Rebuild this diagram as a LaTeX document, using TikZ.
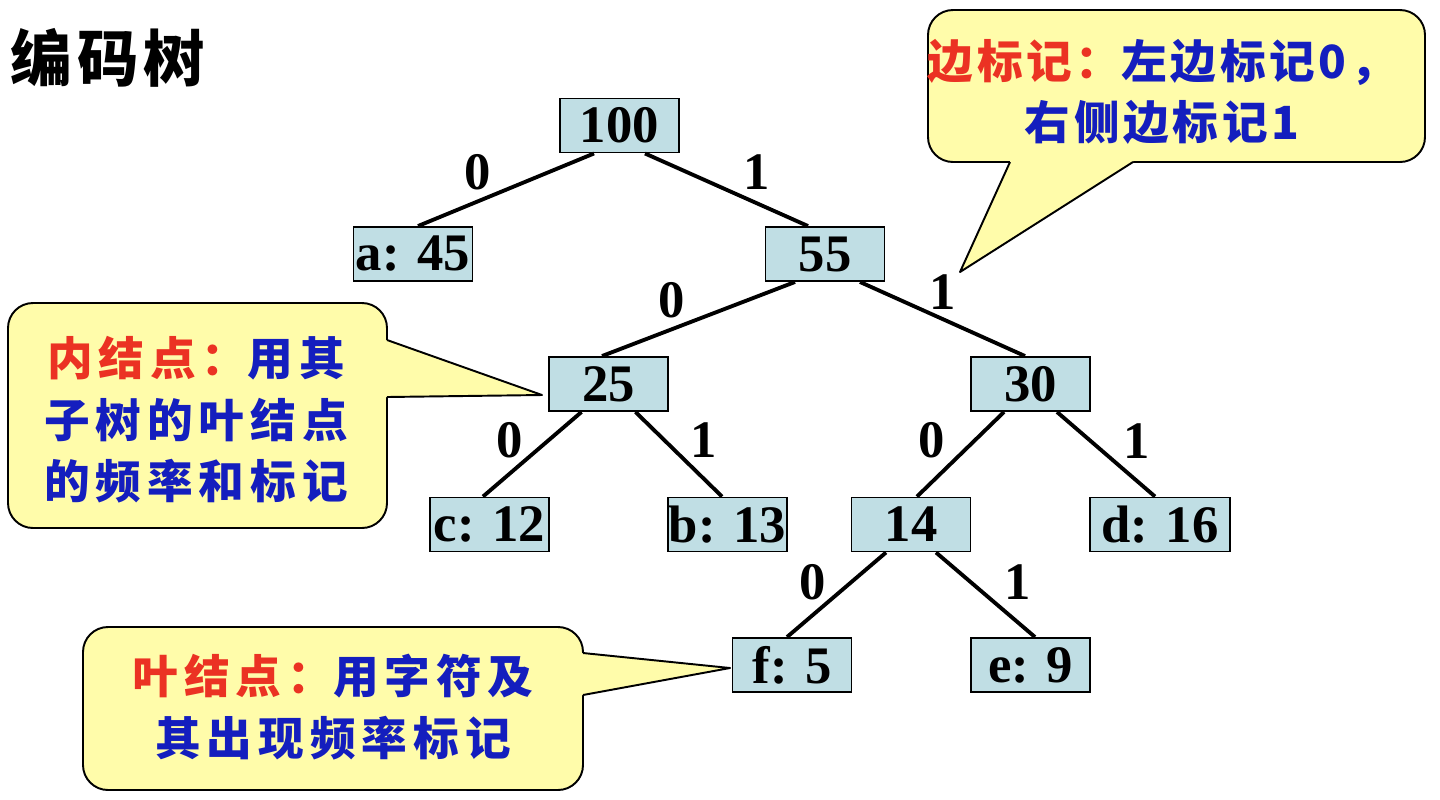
\documentclass[tikz,border=0pt]{standalone}
\usepackage{fontspec}
\setmainfont{Liberation Serif}
\newfontfamily\cjk[LetterSpace=13]{Noto Sans CJK SC}
\newfontfamily\cjknarrow[LetterSpace=8]{Noto Sans CJK SC}
\newfontfamily\titlecjk[LetterSpace=8]{Noto Sans CJK SC}
\usetikzlibrary{positioning}
\definecolor{boxfill}{RGB}{192,222,228}
\definecolor{notefill}{RGB}{255,252,170}
\definecolor{keyred}{RGB}{235,50,35}
\definecolor{textblue}{RGB}{20,30,190}

\begin{document}
\begin{tikzpicture}[x=0.02cm, y=-0.02cm,
  treenode/.style={draw=black, line width=1.1pt, fill=boxfill, minimum width=2.38cm,
    minimum height=1.08cm, inner sep=0pt, font=\fontsize{30}{30}\selectfont\bfseries},
  edgelabel/.style={inner sep=0pt, font=\fontsize{30}{30}\selectfont\bfseries},
  treeedge/.style={line width=2.2pt},
  note/.style={draw=black, line width=1.1pt, fill=notefill, rounded corners=0.5cm},
  pointer/.style={draw=black, line width=1.1pt, line join=round},
  notetext/.style={align=center, inner sep=0pt, text=textblue,
    font=\cjk\bfseries\fontsize{26}{35}\selectfont}]
  \useasboundingbox (0,0) rectangle (1440,799);

  % title
  \node[font=\titlecjk\bfseries\fontsize{35}{35}\selectfont, inner sep=0pt] (title) at (108,58) {编码树};

  % tree nodes
  \node[treenode] (n100) at (619.5,125.5) {100};
  \node[treenode] (a45) at (413,254) {a: 45};
  \node[treenode] (n55) at (825,254) {55};
  \node[treenode] (n25) at (608.5,384) {25};
  \node[treenode] (n30) at (1030.5,384) {30};
  \node[treenode] (c12) at (489.5,524.5) {c: 12};
  \node[treenode] (b13) at (727.5,524.5) {b: 13};
  \node[treenode] (n14) at (911,524.5) {14};
  \node[treenode, minimum width=2.8cm] (d16) at (1160,524.5) {d: 16};
  \node[treenode] (f5) at (792,665) {f: 5};
  \node[treenode] (e9) at (1030.5,665) {e: 9};

  % edges
  \draw[treeedge] ([xshift=-0.51cm]n100.south) -- ([xshift=0.1cm]a45.north);
  \draw[treeedge] ([xshift=0.51cm]n100.south) -- ([xshift=-0.34cm]n55.north);
  \draw[treeedge] ([xshift=-0.6cm]n55.south) -- ([xshift=-0.13cm]n25.north);
  \draw[treeedge] ([xshift=0.7cm]n55.south) -- ([xshift=-0.11cm]n30.north);
  \draw[treeedge] ([xshift=-0.54cm]n25.south) -- ([xshift=-0.13cm]c12.north);
  \draw[treeedge] ([xshift=0.54cm]n25.south) -- ([xshift=-0.11cm]b13.north);
  \draw[treeedge] ([xshift=-0.53cm]n30.south) -- ([xshift=0.12cm]n14.north);
  \draw[treeedge] ([xshift=0.53cm]n30.south) -- ([xshift=-0.1cm]d16.north);
  \draw[treeedge] ([xshift=-0.5cm]n14.south) -- ([xshift=-0.1cm]f5.north);
  \draw[treeedge] ([xshift=0.5cm]n14.south) -- ([xshift=0.09cm]e9.north);

  % edge labels
  \node[edgelabel] (l100a) at (478,172) {0};
  \node[edgelabel] (l100b) at (757,172) {1};
  \node[edgelabel] (l55a) at (672,300) {0};
  \node[edgelabel] (l55b) at (943,292) {1};
  \node[edgelabel] (l25a) at (510,440) {0};
  \node[edgelabel] (l25b) at (704,440) {1};
  \node[edgelabel] (l30a) at (932,440) {0};
  \node[edgelabel] (l30b) at (1137,441) {1};
  \node[edgelabel] (l14a) at (813,582) {0};
  \node[edgelabel] (l14b) at (1018,582) {1};

  % callout: edge marks
  \draw[note] (928,10) rectangle (1425,162);
  \fill[notefill] (1010,155) -- (1010,162) -- (960,272) -- (1133,162) -- (1133,155) -- cycle;
  \draw[pointer] (1010,162) -- (960,272) -- (1133,162);
  \node[notetext, font=\cjknarrow\bfseries\fontsize{26}{35}\selectfont] (edgenote) at (1162,92)
    {{\color{keyred}边标记：}左边标记0，\\右侧边标记1};

  % callout: inner nodes
  \draw[note] (8,303) rectangle (387,528);
  \fill[notefill] (380,340) -- (387,340) -- (542,395) -- (387,397) -- (380,397) -- cycle;
  \draw[pointer] (387,340) -- (542,395) -- (387,397);
  \node[notetext] (innernote) at (196,420) {{\color{keyred}内结点：}用其\\子树的叶结点\\的频率和标记};

  % callout: leaves
  \draw[note] (83,627) rectangle (583,790);
  \fill[notefill] (576,653) -- (583,653) -- (730,668) -- (583,695) -- (576,695) -- cycle;
  \draw[pointer] (583,653) -- (730,668) -- (583,695);
  \node[notetext] (leafnote) at (333,707) {{\color{keyred}叶结点：}用字符及\\其出现频率标记};
\end{tikzpicture}
\end{document}
